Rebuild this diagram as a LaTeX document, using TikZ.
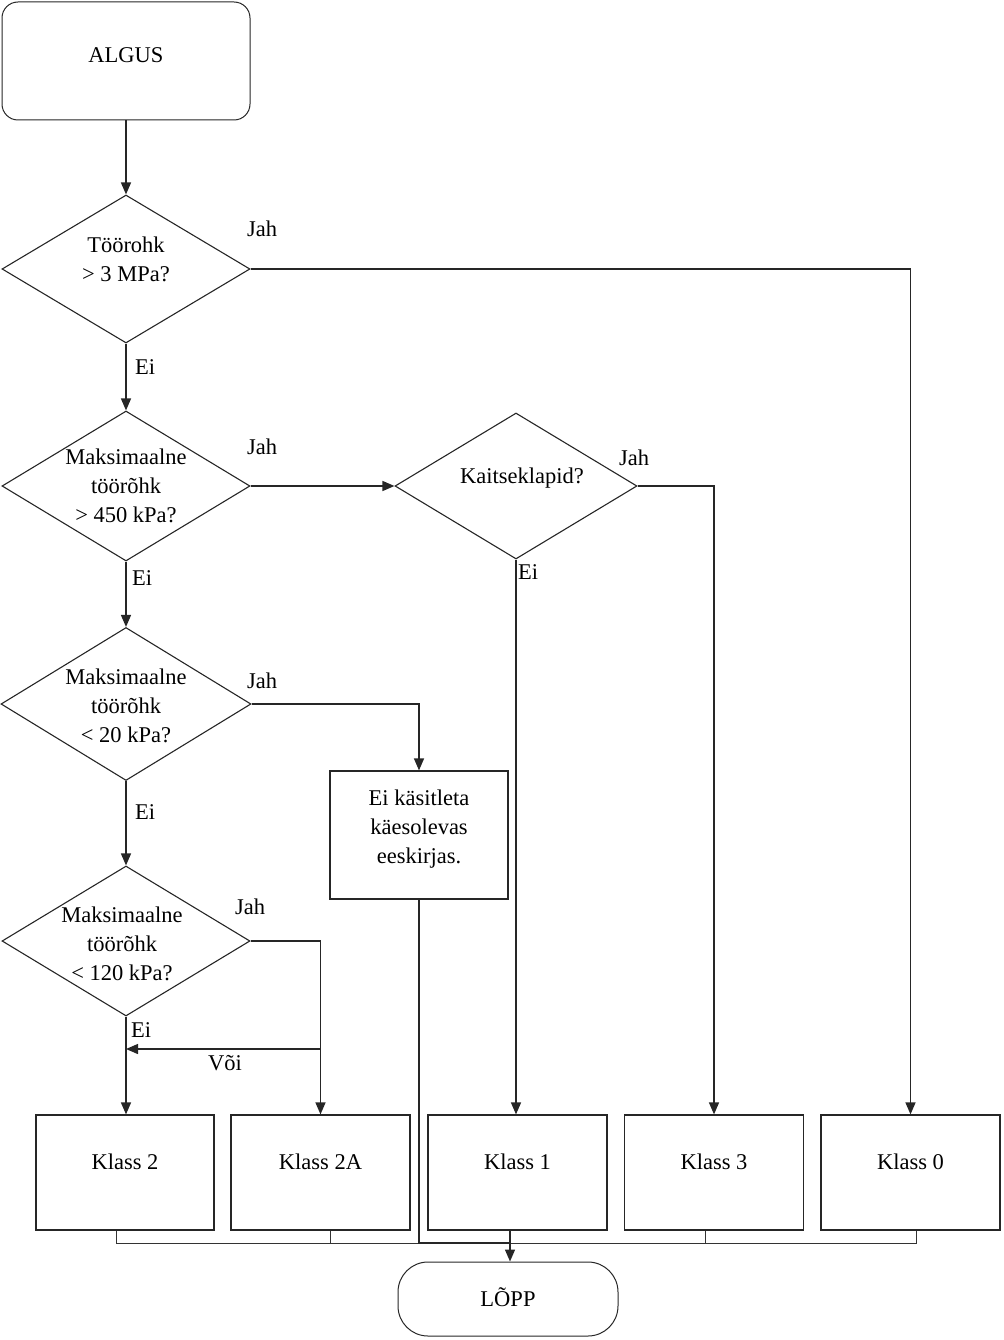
\documentclass[tikz,border=0pt]{standalone}
\usepackage{fontspec}
\setmainfont{Liberation Serif}
\usetikzlibrary{shapes.geometric,arrows.meta}
\begin{document}
\begin{tikzpicture}[x=1pt,y=-1pt,
  every node/.style={font=\fontsize{22.5}{29}\selectfont},
  line/.style={draw=black!85, line width=1.4pt},
  thinline/.style={draw=black!80, line width=1pt},
  arr/.style={line, -{Triangle[length=12pt,width=10pt]}},
  dia/.style={diamond, draw=black!85, line width=1.1pt, inner sep=0pt},
  box/.style={rectangle, draw=black!85, line width=1.2pt, minimum width=179pt, minimum height=115pt, inner sep=0pt},
  lbl/.style={inner sep=0pt, align=center},
  tag/.style={inner sep=0pt}]
\useasboundingbox (0,0) rectangle (1003,1340);

% start / end
\node[draw=black!85, line width=1pt, rounded corners=16pt, minimum width=248pt, minimum height=118pt,
  label={[tag, yshift=6pt]center:ALGUS}] (start) at (126,61) {};
\node[draw=black!85, line width=1pt, rounded corners=30pt, minimum width=220pt, minimum height=74pt,
  label={[tag, yshift=2pt]center:LÕPP}] (lopp) at (508,1299) {};

% decisions
\node[dia, minimum width=248pt, minimum height=148pt] (d1) at (126,269) {};
\node[lbl] (t1) at (126,259) {Töörohk\\> 3 MPa?};
\node[dia, minimum width=248pt, minimum height=150pt] (d2) at (126,486) {};
\node[lbl] (t2) at (126,486) {Maksimaalne\\töörõhk\\> 450 kPa?};
\node[dia, minimum width=242pt, minimum height=146pt] (dk) at (516,486) {};
\node[lbl] (tk) at (522,478) {Kaitseklapid?};
\node[dia, minimum width=250pt, minimum height=153pt] (d3) at (126,704) {};
\node[lbl] (t3) at (126,706) {Maksimaalne\\töörõhk\\< 20 kPa?};
\node[dia, minimum width=248pt, minimum height=150pt] (d4) at (126,941) {};
\node[lbl] (t4) at (122,944) {Maksimaalne\\töörõhk\\< 120 kPa?};

% boxes
\node[box, minimum width=178pt, minimum height=128pt,
  label={[lbl, yshift=6pt]center:Ei käsitleta\\käesolevas\\eeskirjas.}] (ek) at (419,835) {};
\node[box, minimum width=178pt, label={[tag, yshift=11pt]center:Klass 2}] (k2) at (125,1172.5) {};
\node[box, label={[tag, yshift=11pt]center:Klass 2A}] (k2a) at (320.5,1172.5) {};
\node[box, label={[tag, yshift=11pt]center:Klass 1}] (k1) at (517.5,1172.5) {};
\node[box, label={[tag, yshift=11pt]center:Klass 3}] (k3) at (714,1172.5) {};
\node[box, label={[tag, yshift=11pt]center:Klass 0}] (k0) at (910.5,1172.5) {};

% connectors
\draw[arr] (start) -- (d1);
\draw[arr] (d1.east) -| (k0.north);
\draw[arr] (d1) -- (d2);
\draw[arr] (d2) -- (dk);
\draw[arr] (dk.east) -| (k3.north);
\draw[arr] (dk.south) -- (dk.south |- k1.north);
\draw[arr] (d2) -- (d3);
\draw[arr] (d3.east) -| (ek.north);
\draw[arr] (d3) -- (d4);
\draw[arr] (d4.east) -| (k2a.north);
\draw[arr] (d4.south) -- (d4.south |- k2.north);
\coordinate (v1) at (k2a.north |- 0,1049);
\draw[arr] (v1) -- (v1 -| d4.south);

% bottom collector
\coordinate (busy) at (0,1243);
\draw[thinline] ([xshift=-9pt]k2.south) |- ([xshift=6pt]k0.south |- busy) -- ([xshift=6pt]k0.south);
\draw[thinline] ([xshift=10pt]k2a.south) -- ([xshift=10pt]k2a.south |- busy);
\draw[thinline] ([xshift=-9pt]k3.south) -- ([xshift=-9pt]k3.south |- busy);
\draw[line] (ek.south) -- (ek.south |- busy) -- ([xshift=2pt]lopp.north |- busy);
\draw[arr] ([xshift=2pt]k1.south -| lopp.north) -- ([xshift=2pt]lopp.north);

% labels
\node[tag] (j1) at (262,229) {Jah};
\node[tag] (j2) at (262,447) {Jah};
\node[tag] (j3) at (262,681) {Jah};
\node[tag] (j4) at (250,907) {Jah};
\node[tag] (jk) at (634,458) {Jah};
\node[tag] (e1) at (145,367) {Ei};
\node[tag] (e2) at (142,578) {Ei};
\node[tag] (e3) at (145,812) {Ei};
\node[tag] (e4) at (141,1030) {Ei};
\node[tag] (ek2) at (528,572) {Ei};
\node[tag] (voi) at (225,1063) {Või};
\end{tikzpicture}
\end{document}
